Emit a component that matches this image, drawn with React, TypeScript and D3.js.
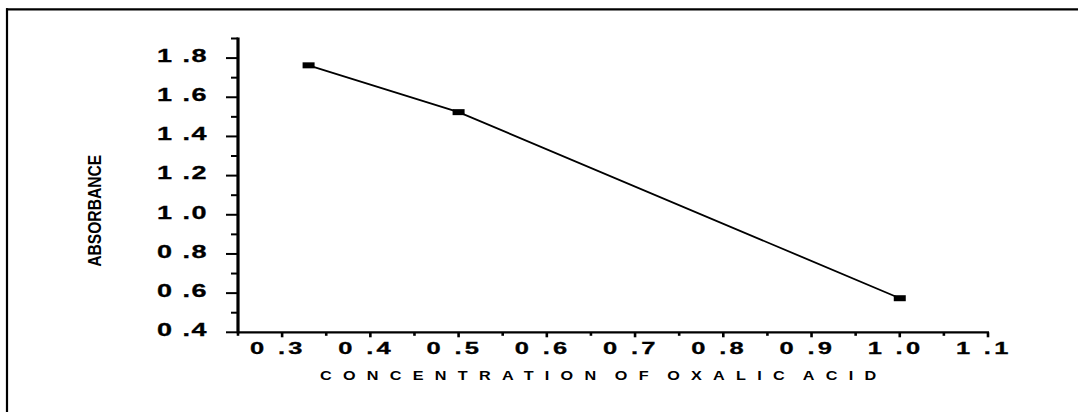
import React from "react";
import * as d3 from "d3";

const concentration = [0.33, 0.5, 1.0];
const absorbance = [1.763, 1.524, 0.574];
const xMajorTicks = [0.3, 0.4, 0.5, 0.6, 0.7, 0.8, 0.9, 1.0, 1.1];
const xMinorTicks = [0.25, 0.35, 0.45, 0.55, 0.65, 0.75, 0.85, 0.95, 1.05];
const yMajorTicks = [0.4, 0.6, 0.8, 1.0, 1.2, 1.4, 1.6, 1.8];
const yMinorTicks = [0.5, 0.7, 0.9, 1.1, 1.3, 1.5, 1.7, 1.9];
const xTitle = "CONCENTRATION OF OXALIC ACID";
const yTitle = "ABSORBANCE";

const W = 1078;
const H = 412;
const FONT = "'Liberation Sans', Arial, Helvetica, sans-serif";

const fmt = (v: number) => d3.format(".1f")(v).replace(".", " .");

export default function App() {
  const x = d3.scaleLinear().domain([0.25, 1.1]).range([238, 988]);
  const y = d3.scaleLinear().domain([0.4, 1.9]).range([332.3, 38.5]);
  const data = concentration.map((c, i) => ({ c, a: absorbance[i] }));
  const line = d3
    .line<{ c: number; a: number }>()
    .x((d) => x(d.c))
    .y((d) => y(d.a));
  const x0 = x(0.25);
  const y0 = y(0.4);

  return (
    <svg
      width={W}
      height={H}
      style={{ position: "absolute", left: 0, top: 0, background: "#fff" }}
      fontFamily={FONT}
    >
      <rect x={0} y={0} width={W} height={H} fill="#fff" />
      {/* frame (top and left edges visible) */}
      <line x1={6} x2={W} y1={9.3} y2={9.3} stroke="#000" strokeWidth={2.2} />
      <line x1={7} x2={7} y1={8.2} y2={H} stroke="#000" strokeWidth={2.2} />

      {/* Y axis */}
      <line x1={x0} x2={x0} y1={y(1.9) - 1} y2={y0 + 1} stroke="#000" strokeWidth={3.2} />
      {yMajorTicks.map((t) => (
        <g key={"ym" + t}>
          <line x1={x0 - 12} x2={x0} y1={y(t)} y2={y(t)} stroke="#000" strokeWidth={2} />
          <text
            transform={`translate(157, ${y(t) + 3.8}) scale(1.5, 1)`}
            fontSize={18}
            fontWeight="bold"
            stroke="#000"
            strokeWidth={0.3}
            style={{ letterSpacing: "1px" }}
          >
            {fmt(t)}
          </text>
        </g>
      ))}
      {yMinorTicks.map((t) => (
        <line key={"yn" + t} x1={x0 - 7} x2={x0} y1={y(t)} y2={y(t)} stroke="#000" strokeWidth={2} />
      ))}

      {/* X axis */}
      <line x1={x0 - 1} x2={x(1.1) + 1} y1={y0} y2={y0} stroke="#000" strokeWidth={2.2} />
      {xMajorTicks.map((t) => (
        <g key={"xm" + t}>
          <line x1={x(t)} x2={x(t)} y1={y0} y2={y0 + 5} stroke="#000" strokeWidth={2.6} />
          <text
            transform={`translate(${x(t) - 32}, 354) scale(1.5, 1)`}
            fontSize={17}
            fontWeight="bold"
            stroke="#000"
            strokeWidth={0.3}
            style={{ letterSpacing: "2.2px" }}
          >
            {fmt(t)}
          </text>
        </g>
      ))}
      {xMinorTicks.map((t) => (
        <line key={"xn" + t} x1={x(t)} x2={x(t)} y1={y0} y2={y0 + 3.5} stroke="#000" strokeWidth={2.6} />
      ))}

      {/* series */}
      <path d={line(data) || ""} fill="none" stroke="#000" strokeWidth={1.8} />
      {data.map((d, i) => (
        <rect key={i} x={x(d.c) - 6} y={y(d.a) - 3} width={12} height={6} fill="#000" />
      ))}

      {/* titles */}
      <text
        transform="translate(320, 380) scale(1.2, 1)"
        x={0}
        y={0}
        fontSize={13.5}
        fontWeight="bold"
        style={{ letterSpacing: "9.39px", wordSpacing: "-7px" }}
      >
        {xTitle}
      </text>
      <text
        transform={`translate(101, ${210.8}) rotate(-90)`}
        textAnchor="middle"
        fontSize={18}
        fontWeight="bold"
        textLength={112}
        lengthAdjust="spacingAndGlyphs"
      >
        {yTitle}
      </text>
    </svg>
  );
}
